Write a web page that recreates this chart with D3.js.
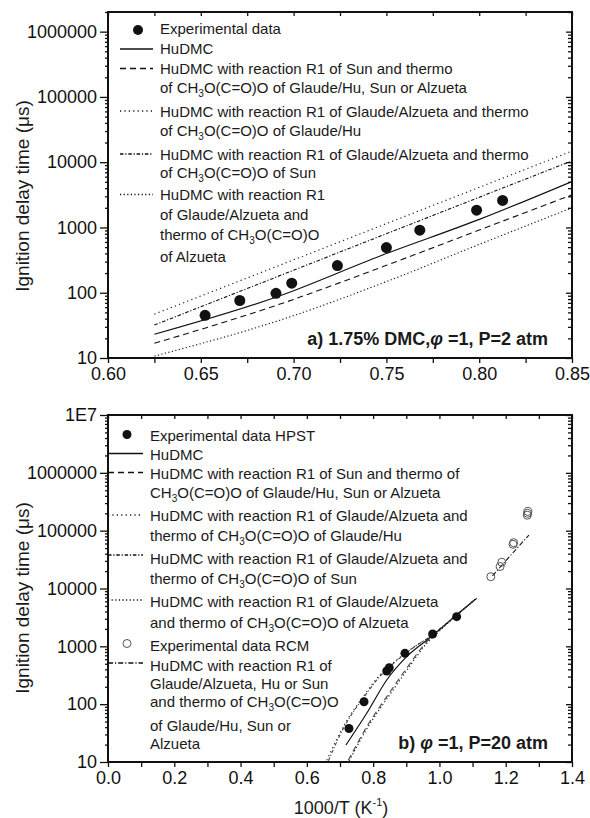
<!DOCTYPE html>
<html><head><meta charset="utf-8">
<script src="https://cdn.jsdelivr.net/npm/d3@7"></script>
<style>body{margin:0;background:#fff}svg{display:block}</style>
</head><body>
<script>
// ---------- DATA ----------
// Panel a: 1.75% DMC, phi=1, P=2 atm ; x = 1000/T, y = ignition delay (us)
const aExpX = [0.6523, 0.671, 0.6905, 0.699, 0.7236, 0.750, 0.768, 0.7986, 0.8126];
const aExpY = [45, 76, 98, 140, 261, 492, 908, 1842, 2590];
const aHuX = [0.625, 0.6927, 0.7466, 0.8004, 0.85];
const aHuY = [23.1, 90, 366, 1340, 5060];
const aSunX = [0.625, 0.6927, 0.75, 0.80, 0.85];
const aSunY = [16.8, 67, 263, 912, 3160];
const aGHuX = [0.625, 0.7375, 0.85];
const aGHuY = [47, 832, 14800];
const aGSunX = [0.625, 0.7375, 0.85];
const aGSunY = [32, 581, 10500];
const aGAlzX = [0.625, 0.6927, 0.75, 0.80, 0.85];
const aGAlzY = [10.7, 38, 148, 550, 2000];

// Panel b: phi=1, P=20 atm
const bHpstX = [0.727, 0.7725, 0.841, 0.8486, 0.896, 0.9795, 1.052];
const bHpstY = [38, 110, 375, 427, 757, 1633, 3260];
const bRcmX = [1.155, 1.183, 1.188, 1.222, 1.224, 1.265, 1.266, 1.267];
const bRcmY = [16000, 24000, 28500, 58000, 62000, 185000, 200000, 215000];
const bHuX = [0.718, 0.7806, 0.841, 0.901, 0.9817, 1.052, 1.1125];
const bHuY = [19.7, 69.5, 262, 662, 1570, 3480, 6760];
const bSunX = [0.725, 0.781, 0.841, 0.901, 0.962, 0.985, 1.05, 1.11];
const bSunY = [10.7, 41, 135, 417, 1200, 1600, 3400, 6700];
const bGHuX = [0.66, 0.71, 0.77, 0.816, 0.871, 0.911, 0.98, 1.05, 1.11];
const bGHuY = [10.7, 41, 135, 300, 580, 870, 1600, 3400, 6600];
const bGSunX = [0.665, 0.712, 0.772, 0.82, 0.873, 0.912, 0.98, 1.05, 1.11];
const bGSunY = [10.5, 40, 132, 300, 580, 870, 1600, 3450, 6700];
const bGAlzX = [0.728, 0.784, 0.845, 0.905, 0.965, 0.988, 1.05, 1.11];
const bGAlzY = [10.5, 40, 132, 410, 1180, 1580, 3400, 6650];
const bRcmModX = [1.16, 1.215, 1.27];
const bRcmModY = [16500, 37500, 84000];

const aXTicks = [0.60, 0.625, 0.65, 0.675, 0.70, 0.725, 0.75, 0.775, 0.80, 0.825, 0.85];
const aXLabels = [0.60, 0.65, 0.70, 0.75, 0.80, 0.85];
const aYLabels = [10, 100, 1000, 10000, 100000, 1000000];
const bXTicks = [0, 0.1, 0.2, 0.3, 0.4, 0.5, 0.6, 0.7, 0.8, 0.9, 1.0, 1.1, 1.2, 1.3, 1.4];
const bXLabels = [0, 0.2, 0.4, 0.6, 0.8, 1.0, 1.2, 1.4];
const bYLabels = [10, 100, 1000, 10000, 100000, 1000000, 10000000];

// ---------- DRAW ----------
const FONT = "'Liberation Sans', Arial, Helvetica, sans-serif";
const W = 590, H = 818;
const svg = d3.select("body").append("svg").attr("width", W).attr("height", H)
  .style("font-family", FONT);

const zip = (xs, ys) => xs.map((x, i) => [x, ys[i]]);

const styles = {
  solid: {dash: null, w: 1.2},
  dashed: {dash: "6,4", w: 1.1},
  dotted1: {dash: "1.2,3.2", w: 1.1},
  dashdot: {dash: "3.5,1.8,1.2,1.8", w: 1.1},
  dotted2: {dash: "1.2,2.4", w: 1.1},
  dashdot2: {dash: "5,2,1.2,2", w: 1.1}
};

function minorLog(lo, hi) {
  const out = [];
  for (let e = Math.floor(Math.log10(lo)); e <= Math.ceil(Math.log10(hi)); e++) {
    for (let m = 2; m <= 9; m++) { const v = m * Math.pow(10, e); if (v >= lo && v <= hi) out.push(v); }
  }
  return out;
}

function panel(cfg) {
  const x = d3.scaleLinear().domain(cfg.xdom).range([108, 572]);
  const y = d3.scaleLog().domain(cfg.ydom).range([cfg.y1, cfg.y0]);
  const g = svg.append("g");
  const yMin = minorLog(cfg.ydom[0], cfg.ydom[1]);

  // bottom ticks (outward)
  g.append("g").attr("transform", `translate(0,${cfg.y1})`)
    .call(d3.axisBottom(x).tickValues(cfg.xticks).tickSizeInner(5).tickSizeOuter(0).tickFormat(""));
  g.append("g").attr("transform", `translate(0,${cfg.y1})`)
    .call(d3.axisBottom(x).tickValues(cfg.xlabels).tickSize(0).tickPadding(9).tickFormat(cfg.xfmt))
    .call(s => s.selectAll("text").attr("font-size", 18).attr("font-family", FONT).attr("fill", "#111"));
  // top ticks (inward)
  g.append("g").attr("transform", `translate(0,${cfg.y0})`)
    .call(d3.axisTop(x).tickValues(cfg.xticks).tickSizeInner(-4).tickSizeOuter(0).tickFormat(""));
  // left ticks (outward)
  g.append("g").attr("transform", `translate(108,0)`)
    .call(d3.axisLeft(y).tickValues(yMin).tickSizeInner(3).tickSizeOuter(0).tickFormat(""));
  g.append("g").attr("transform", `translate(108,0)`)
    .call(d3.axisLeft(y).tickValues(cfg.ylabels).tickSizeInner(8).tickSizeOuter(0).tickPadding(3).tickFormat(cfg.yfmt))
    .call(s => s.selectAll("text").attr("font-size", 18).attr("font-family", FONT).attr("fill", "#111"));
  // right ticks (inward)
  g.append("g").attr("transform", `translate(572,0)`)
    .call(d3.axisRight(y).tickValues(yMin).tickSizeInner(-4).tickSizeOuter(0).tickFormat(""));
  g.append("g").attr("transform", `translate(572,0)`)
    .call(d3.axisRight(y).tickValues(cfg.ylabels).tickSizeInner(-6).tickSizeOuter(0).tickFormat(""));
  g.selectAll(".domain").remove();
  g.selectAll(".tick line").attr("stroke", "#111").attr("stroke-width", 1.3);

  // clip
  const cid = "clip" + cfg.id;
  svg.append("clipPath").attr("id", cid).append("rect")
    .attr("x", 108).attr("y", cfg.y0).attr("width", 464).attr("height", cfg.y1 - cfg.y0);
  const plot = g.append("g").attr("clip-path", `url(#${cid})`);

  const line = d3.line().x(d => x(d[0])).y(d => y(d[1])).curve(d3.curveMonotoneX);
  cfg.lines.forEach(L => {
    const st = styles[L.style];
    plot.append("path").datum(zip(L.xs, L.ys)).attr("d", line)
      .attr("fill", "none").attr("stroke", L.color || "#111").attr("stroke-width", st.w)
      .attr("stroke-dasharray", st.dash);
  });
  cfg.points.forEach(P => {
    plot.append("g").selectAll("circle").data(zip(P.xs, P.ys)).join("circle")
      .attr("cx", d => x(d[0])).attr("cy", d => y(d[1])).attr("r", P.r)
      .attr("fill", P.open ? "none" : "#111").attr("stroke", P.open ? "#555" : "none")
      .attr("stroke-width", 1);
  });

  // frame
  g.append("rect").attr("x", 108).attr("y", cfg.y0).attr("width", 464).attr("height", cfg.y1 - cfg.y0)
    .attr("fill", "none").attr("stroke", "#111").attr("stroke-width", 2);

  // legend
  const lg = g.append("g");
  cfg.legend.forEach(item => {
    if (item.sym === "dot" || item.sym === "open") {
      lg.append("circle").attr("cx", cfg.lgMark).attr("cy", item.sy).attr("r", item.sym === "dot" ? cfg.lgR : 4)
        .attr("fill", item.sym === "dot" ? "#111" : "none").attr("stroke", item.sym === "open" ? "#555" : "none");
    } else if (item.sym) {
      const st = styles[item.sym];
      lg.append("line").attr("x1", cfg.lgL0).attr("x2", cfg.lgL1).attr("y1", item.sy).attr("y2", item.sy)
        .attr("stroke", "#111").attr("stroke-width", st.w + 0.2).attr("stroke-dasharray", st.dash);
    }
    item.rows.forEach(r => {
      const t = lg.append("text").attr("x", cfg.lgText).attr("y", r[0]).attr("font-size", 15).attr("fill", "#1a1a1a");
      const parts = r[1].split("CH3O");
      parts.forEach((p, i) => {
        if (i > 0) {
          t.append("tspan").text("CH");
          t.append("tspan").attr("font-size", 10).attr("dy", 4).text("3");
          t.append("tspan").attr("dy", -4).text("O" + p);
        } else t.append("tspan").text(p);
      });
    });
  });

  // annotation
  const an = g.append("text").attr("x", 548).attr("y", cfg.annY).attr("text-anchor", "end")
    .attr("font-size", 18).attr("font-weight", "bold").attr("fill", "#1a1a1a");
  an.append("tspan").text(cfg.ann[0]);
  an.append("tspan").attr("font-style", "italic").text("φ");
  an.append("tspan").text(cfg.ann[1]);

  // y title
  svg.append("text").attr("transform", `translate(29,${cfg.ytCenter}) rotate(-90)`)
    .attr("text-anchor", "middle").attr("font-size", 19).attr("fill", "#1a1a1a")
    .text("Ignition delay time (μs)");
}

panel({
  id: "a", xdom: [0.6, 0.85], ydom: [10, 2e6], y0: 12, y1: 358,
  xticks: aXTicks, xlabels: aXLabels, ylabels: aYLabels,
  xfmt: d3.format(".2f"), yfmt: d3.format("d"),
  lines: [
    {xs: aGHuX, ys: aGHuY, style: "dotted1"},
    {xs: aGSunX, ys: aGSunY, style: "dashdot"},
    {xs: aHuX, ys: aHuY, style: "solid"},
    {xs: aSunX, ys: aSunY, style: "dashed"},
    {xs: aGAlzX, ys: aGAlzY, style: "dotted2"}
  ],
  points: [{xs: aExpX, ys: aExpY, r: 5.5}],
  lgMark: 138, lgR: 5, lgL0: 120, lgL1: 153, lgText: 160,
  legend: [
    {sym: "dot", sy: 30, rows: [[34, "Experimental data"]]},
    {sym: "solid", sy: 49, rows: [[54, "HuDMC"]]},
    {sym: "dashed", sy: 68.5, rows: [[74, "HuDMC with reaction R1 of Sun and thermo"], [92.5, "of CH3O(C=O)O of Glaude/Hu, Sun or Alzueta"]]},
    {sym: "dotted1", sy: 111, rows: [[116.5, "HuDMC with reaction R1 of Glaude/Alzueta and thermo"], [136, "of CH3O(C=O)O of Glaude/Hu"]]},
    {sym: "dashdot", sy: 154, rows: [[159.5, "HuDMC with reaction R1 of Glaude/Alzueta and thermo"], [177.5, "of CH3O(C=O)O of Sun"]]},
    {sym: "dotted2", sy: 194.5, rows: [[200, "HuDMC with reaction R1"], [220, "of Glaude/Alzueta and"], [240, "thermo of CH3O(C=O)O"], [262, "of Alzueta"]]}
  ],
  ann: ["a) 1.75% DMC,", " =1, P=2 atm"], annY: 345,
  ytCenter: 196
});

panel({
  id: "b", xdom: [0, 1.4], ydom: [10, 1e7], y0: 415, y1: 762,
  xticks: bXTicks, xlabels: bXLabels, ylabels: bYLabels,
  xfmt: d3.format(".1f"), yfmt: d => d >= 1e7 ? "1E7" : d3.format("d")(d),
  lines: [
    {xs: bGHuX, ys: bGHuY, style: "dotted1"},
    {xs: bGSunX, ys: bGSunY, style: "dashdot", color: "#444"},
    {xs: bHuX, ys: bHuY, style: "solid"},
    {xs: bSunX, ys: bSunY, style: "dashed", color: "#444"},
    {xs: bGAlzX, ys: bGAlzY, style: "dotted2"},
    {xs: bRcmModX, ys: bRcmModY, style: "dashdot2"}
  ],
  points: [{xs: bHpstX, ys: bHpstY, r: 4.5}, {xs: bRcmX, ys: bRcmY, r: 4, open: true}],
  lgMark: 127, lgR: 4.5, lgL0: 108, lgL1: 143, lgText: 150,
  legend: [
    {sym: "dot", sy: 434.5, rows: [[440.5, "Experimental data HPST"]]},
    {sym: "solid", sy: 453.5, rows: [[460, "HuDMC"]]},
    {sym: "dashed", sy: 472.5, rows: [[479, "HuDMC with reaction R1 of Sun and thermo of"], [498, "CH3O(C=O)O of Glaude/Hu, Sun or Alzueta"]]},
    {sym: "dotted1", sy: 515, rows: [[521, "HuDMC with reaction R1 of Glaude/Alzueta and"], [540.5, "thermo of CH3O(C=O)O of Glaude/Hu"]]},
    {sym: "dashdot", sy: 555, rows: [[564, "HuDMC with reaction R1 of Glaude/Alzueta and"], [584, "thermo of CH3O(C=O)O of Sun"]]},
    {sym: "dotted2", sy: 600, rows: [[607, "HuDMC with reaction R1 of Glaude/Alzueta"], [627.5, "and thermo of CH3O(C=O)O of Alzueta"]]},
    {sym: "open", sy: 643.5, rows: [[650.5, "Experimental data RCM"]]},
    {sym: "dashdot2", sy: 663, rows: [[670.5, "HuDMC with reaction R1 of"], [689, "Glaude/Alzueta, Hu or Sun"], [707, "and thermo of CH3O(C=O)O"], [730.5, "of Glaude/Hu, Sun or"], [749, "Alzueta"]]}
  ],
  ann: ["b) ", " =1, P=20 atm"], annY: 749,
  ytCenter: 598
});

// x title
const xt = svg.append("text").attr("x", 341).attr("y", 814).attr("text-anchor", "middle")
  .attr("font-size", 18).attr("fill", "#1a1a1a");
xt.append("tspan").text("1000/T (K");
xt.append("tspan").attr("font-size", 11).attr("dy", -8).text("-1");
xt.append("tspan").attr("dy", 8).text(")");
</script>
</body></html>
